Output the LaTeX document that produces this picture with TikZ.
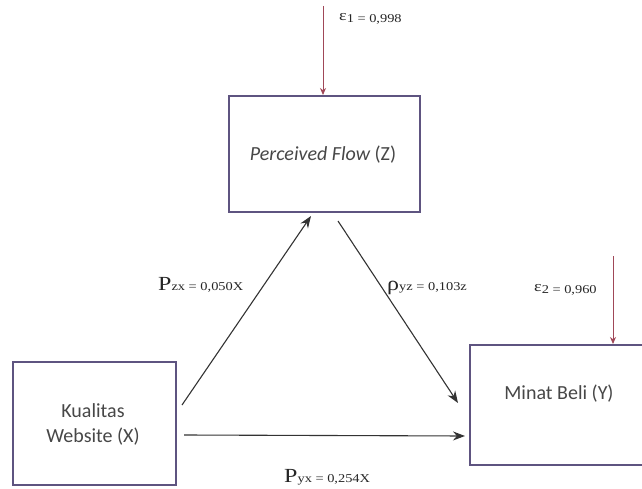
\documentclass[tikz,border=0pt]{standalone}
\usepackage{fontspec}
\setmainfont{Liberation Serif}
\newfontfamily\boxfont{Carlito}
\newfontfamily\labfont[FakeStretch=1.2]{Liberation Serif}
\usetikzlibrary{arrows.meta}
\definecolor{boxcol}{HTML}{5E5480}
\definecolor{errcol}{HTML}{A04858}
\tikzset{
  varbox/.style={draw=boxcol, line width=2pt, fill=white, inner sep=0pt},
  boxtext/.style={inner sep=0pt, font=\boxfont\fontsize{20}{25}\selectfont, text=black!72, align=center},
  patharrow/.style={draw=black!80, line width=1.1pt, -{Stealth[length=12pt,width=9pt]}},
  errarrow/.style={draw=errcol, line width=0.9pt, -{Stealth[length=7pt,width=6pt]}},
  coef/.style={inner sep=0pt, text=black!85, anchor=base west, font=\labfont}
}
\newcommand{\bigP}[3]{{\fontsize{20}{22}\selectfont #1}{\fontsize{12}{14}\selectfont #2 = #3}}
\newcommand{\epsl}[2]{\raisebox{2pt}{\fontsize{15}{17}\selectfont ε}{\fontsize{12}{14}\selectfont #1 = #2}}
\begin{document}
\begin{tikzpicture}[x=1pt,y=-1pt]
\useasboundingbox (0,0) rectangle (642,489);
% boxes
\node[varbox, minimum width=191pt, minimum height=116pt] (Z) at (324.5,154) {};
\node[varbox, minimum width=176pt, minimum height=120pt] (Y) at (558,405) {};
\node[varbox, minimum width=163pt, minimum height=123pt] (X) at (94.5,423.5) {};
% texts
\node[boxtext] (Zt) at (323,155) {\itshape Perceived Flow\upshape{} (Z)};
\node[boxtext] (Yt) at (559,394) {Minat Beli (Y)};
\node[boxtext] (Xt) at (93,424) {Kualitas\\Website (X)};
% error terms
\coordinate (e1) at (323,6);
\coordinate (e2) at (613,256);
\draw[errarrow] (e1) -- (Z.north -| e1);
\draw[errarrow] (e2) -- (Y.north -| e2);
% paths
\coordinate (xs1) at (182,405);
\coordinate (zt1) at (311,216);
\coordinate (zs2) at (338,221);
\coordinate (yt2) at (458,403);
\coordinate (xs3) at (184,435);
\coordinate (yt3) at (465,436);
\draw[patharrow] (xs1) -- (zt1);
\draw[patharrow] (zs2) -- (yt2);
\draw[patharrow] (xs3) -- (yt3);
% coefficients
\node[coef] (l1) at (339,23) {\epsl{1}{0,998}};
\node[coef] (l2) at (534,293) {\epsl{2}{0,960}};
\node[coef] (l3) at (158,290) {\bigP{P}{zx}{0,050X}};
\node[coef] (l4) at (387,290) {\bigP{ρ}{yz}{0,103z}};
\node[coef] (l5) at (284,482) {\bigP{P}{yx}{0,254X}};
\end{tikzpicture}
\end{document}
